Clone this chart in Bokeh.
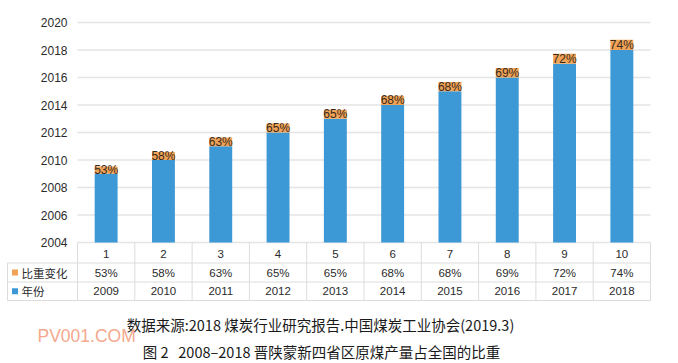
from bokeh.plotting import figure
from bokeh.models import Range1d, ColumnDataSource
from bokeh.core.properties import value
from bokeh.embed import file_html
from bokeh.resources import INLINE

# ---- data ----
categories = ["1", "2", "3", "4", "5", "6", "7", "8", "9", "10"]
years = [2009, 2010, 2011, 2012, 2013, 2014, 2015, 2016, 2017, 2018]
shares = [53, 58, 63, 65, 65, 68, 68, 69, 72, 74]
y_ticks = [2004, 2006, 2008, 2010, 2012, 2014, 2016, 2018, 2020]
row_labels = ["比重变化", "年份"]
source_note = "数据来源:2018 煤炭行业研究报告.中国煤炭工业协会(2019.3)"
fig_title = "图 2\u00a0\u00a0 2008–2018 晋陕蒙新四省区原煤产量占全国的比重"
watermark = "PV001.COM"

BLUE = "#3d98d6"
ORANGE = "#f0a357"
GRID = "#e4e4e4"
BORDER = "#dcdcdc"
TXT = "#2b2b2b"
NUM_FONT = value("Liberation Sans")
CJK_FONT = value("Noto Sans CJK SC")

# ---- geometry (page pixels; the figure was measured to sit at the page origin) ----
W, H, OFF = 676, 361, 0
PLOT_L, PLOT_R = 77, 650          # plot area left/right on the page
PLOT_T, PLOT_B = 22, 242          # y of top tick / bottom tick on the page
n = len(categories)
col_px = (PLOT_R - PLOT_L) / n
unit_px = (PLOT_B - PLOT_T) / (y_ticks[-1] - y_ticks[0])


def px(page_x):
    """page x pixel -> category-axis units"""
    return 0.5 + (page_x - PLOT_L) / col_px


x_range = Range1d(px(OFF), px(OFF + W))
y_range = Range1d(y_ticks[0] - (OFF + H - PLOT_B) / unit_px,
                  y_ticks[-1] + (PLOT_T - OFF) / unit_px)

p = figure(width=W, height=H, output_backend="svg", toolbar_location=None,
           x_range=x_range, y_range=y_range, x_axis_type=None, y_axis_type=None,
           min_border=0, min_border_left=0, min_border_right=0,
           min_border_top=0, min_border_bottom=0)
p.outline_line_color = None
p.extra_y_ranges = {"page": Range1d(OFF + H, OFF)}   # table/caption rows in page pixels

xs = list(range(1, n + 1))
src = ColumnDataSource(dict(
    x=xs,
    base=[y_ticks[0]] * n,
    year=years,
    top=[y + s / 100 for y, s in zip(years, shares)],
    mid=[y + s / 200 for y, s in zip(years, shares)],
    lab=[f"{s}%" for s in shares],
))

# value-axis grid and tick labels
p.segment(x0=[0.5] * len(y_ticks), x1=[n + 0.5] * len(y_ticks), y0=y_ticks, y1=y_ticks,
          line_color=GRID, line_width=1.5)
p.text(x=[px(67)] * len(y_ticks), y=y_ticks, text=[str(t) for t in y_ticks],
       text_align="right", text_baseline="middle", text_font=NUM_FONT,
       text_font_size="12px", text_color=TXT)

# bars
p.vbar(x="x", bottom="base", top="year", width=0.4, source=src,
       fill_color=BLUE, line_color=None)
p.vbar(x="x", bottom="year", top="top", width=0.4, source=src,
       fill_color=ORANGE, line_color=None)
p.text(x="x", y="mid", text="lab", source=src, text_align="center",
       text_baseline="middle", text_font=NUM_FONT, text_font_size="12px",
       text_color="#3a2a1c")

# ---- data table ----
T0, T1, T2, T3 = PLOT_B, 262.5, 281.5, 300
LEFT = px(7)
vx = [i + 0.5 for i in range(n + 1)]
p.segment(x0=vx, x1=vx, y0=[T0] * len(vx), y1=[T3] * len(vx),
          line_color=BORDER, line_width=1, y_range_name="page")
p.segment(x0=[LEFT], x1=[LEFT], y0=[T1], y1=[T3], line_color=BORDER, line_width=1,
          y_range_name="page")
p.segment(x0=[LEFT] * 3, x1=[n + 0.5] * 3, y0=[T1, T2, T3], y1=[T1, T2, T3],
          line_color=BORDER, line_width=1, y_range_name="page")

tsrc = ColumnDataSource(dict(
    x=xs, cat=categories, pct=[f"{s}%" for s in shares], yr=[str(y) for y in years],
    y1=[(T0 + T1) / 2 + 1] * n, y2=[(T1 + T2) / 2] * n, y3=[(T2 + T3) / 2] * n,
))
for col, ycol in (("cat", "y1"), ("pct", "y2"), ("yr", "y3")):
    p.text(x="x", y=ycol, text=col, source=tsrc, text_align="center",
           text_baseline="middle", text_font=NUM_FONT, text_font_size="11.5px",
           text_color=TXT, y_range_name="page")

rows_y = [(T1 + T2) / 2, (T2 + T3) / 2]
p.scatter(x=[px(14.5)] * 2, y=rows_y, marker="square", size=6,
          fill_color=[ORANGE, BLUE], line_color=None, y_range_name="page")
p.text(x=[px(21)] * 2, y=rows_y, text=row_labels, text_align="left",
       text_baseline="middle", text_font=CJK_FONT, text_font_size="11.5px",
       text_color=TXT, y_range_name="page")

# ---- captions ----
p.text(x=[px(320)], y=[324], text=[source_note], text_align="center", text_baseline="middle",
       text_font=CJK_FONT, text_font_size="14.5px", text_color="#1a1a1a", y_range_name="page")
p.text(x=[px(321)], y=[351], text=[fig_title], text_align="center", text_baseline="middle",
       text_font=CJK_FONT, text_font_size="14.5px", text_color="#1a1a1a", y_range_name="page")
p.text(x=[px(37)], y=[335], text=[watermark], text_align="left", text_baseline="middle",
       text_font=NUM_FONT, text_font_size="17.5px", text_color="#f4a88e", y_range_name="page")

open("out.html", "w").write(file_html(p, INLINE))
